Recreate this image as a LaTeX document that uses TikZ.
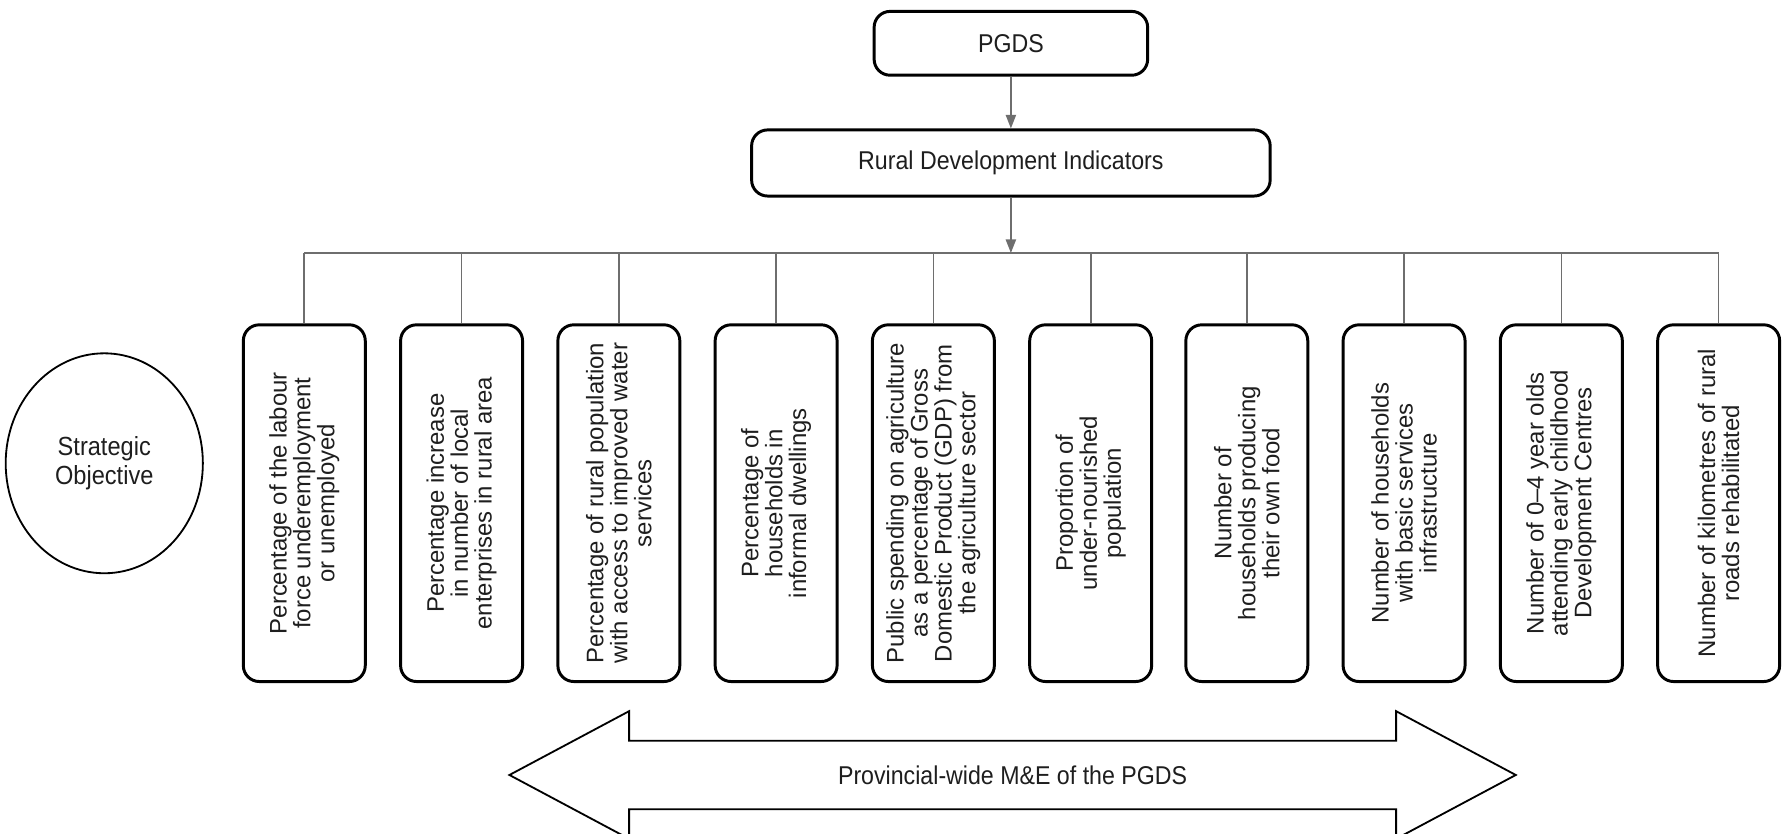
\documentclass[tikz,border=0pt]{standalone}
\usepackage{fontspec}
\usepackage{graphicx}
\setmainfont{Liberation Sans}
\newfontfamily\narrowsf[FakeStretch=0.9]{Liberation Sans}
\usetikzlibrary{arrows.meta,shapes.geometric}
\definecolor{linkgray}{HTML}{6E6E6E}
\definecolor{inkgray}{HTML}{1E1E1E}

% vertical text for the indicator boxes
\newcommand{\vtext}[1]{\rotatebox{90}{\parbox{306pt}{\centering\fontsize{21}{21}\selectfont #1}}}

\begin{document}
\begin{tikzpicture}[x=1pt,y=-1pt,
  topbox/.style={draw=black, line width=2.6pt, rounded corners=14pt, inner sep=0pt,
    text=inkgray, font=\narrowsf\fontsize{22.6}{26}\selectfont},
  indbox/.style={draw=black, line width=2.6pt, rounded corners=14pt, inner sep=0pt,
    minimum width=107pt, minimum height=313pt, text=inkgray},
  link/.style={draw=linkgray, line width=1.5pt},
  arr/.style={link, -{Triangle[length=12pt,width=9pt]}}]

\useasboundingbox (0,0) rectangle (1568,731);

% header boxes
\node[topbox, minimum width=240pt, minimum height=56pt] (pgds) at (887,38) {PGDS};
\node[topbox, minimum width=455pt, minimum height=58pt] (rdi) at (887,143) {Rural Development Indicators};
\coordinate (bus) at (887,222);

\draw[arr] (pgds) -- (rdi);
\draw[arr] (rdi) -- (bus);

% indicator boxes
\node[indbox] (b1)  at (267,441.5)  {\vtext{Percentage of the labour\\force underemployment\\or unemployed}};
\node[indbox] (b2)  at (405,441.5)  {\vtext{Percentage increase\\in number of local\\enterprises in rural area}};
\node[indbox] (b3)  at (543,441.5)  {\vtext{Percentage of rural population\\with access to improved water\\services}};
\node[indbox] (b4)  at (681,441.5)  {\vtext{Percentage of\\households in\\informal dwellings}};
\node[indbox] (b5)  at (819,441.5)  {\vtext{Public spending on agriculture\\as a percentage of Gross\\Domestic Product (GDP) from\\the agriculture sector}};
\node[indbox] (b6)  at (957,441.5)  {\vtext{Proportion of\\under-nourished\\population}};
\node[indbox] (b7)  at (1094,441.5) {\vtext{Number of\\households producing\\their own food}};
\node[indbox] (b8)  at (1232,441.5) {\vtext{Number of households\\with basic services\\infrastructure}};
\node[indbox] (b9)  at (1370,441.5) {\vtext{Number of 0–4 year olds\\attending early childhood\\Development Centres}};
\node[indbox] (b10) at (1508,441.5) {\vtext{Number of kilometres of rural\\roads rehabilitated}};

% distribution bus
\draw[link] (b1.north |- bus) -- (b10.north |- bus);
\foreach \b in {b1,b2,b3,b4,b5,b6,b7,b8,b9,b10}
  \draw[link] (\b.north |- bus) -- (\b.north);

% strategic objective
\node[draw=black, line width=1.6pt, ellipse, minimum width=173pt, minimum height=193pt,
  inner sep=0pt, align=center, text=inkgray, font=\narrowsf\fontsize{23}{25.5}\selectfont]
  (so) at (91.5,406.5) {Strategic\\Objective};

% provincial-wide double arrow
\node[text=inkgray, font=\narrowsf\fontsize{22.6}{25}\selectfont] (me) at (888.5,680) {Provincial-wide M\&E of the PGDS};
\draw[black, line width=1.6pt, line join=miter]
  (447,680) -- (552,624) -- (552,650) -- (1225,650) -- (1225,624) -- (1330,680)
  -- (1225,736) -- (1225,710) -- (552,710) -- (552,736) -- cycle;

\end{tikzpicture}
\end{document}
